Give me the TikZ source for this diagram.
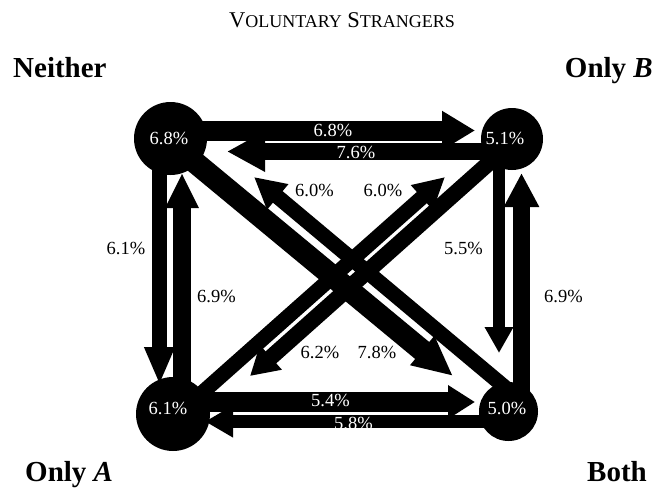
\documentclass[tikz,border=0pt]{standalone}
\usepackage{fontspec}
\setmainfont{Liberation Serif}
\usetikzlibrary{arrows.meta}
\begin{document}
\begin{tikzpicture}[x=1pt,y=-1pt,
  state/.style={circle,fill=black,inner sep=0pt,minimum size=#1},
  fat/.style n args={3}{line width=#1pt,-{Triangle[length=#3pt,width=#2pt]},black},
  pct/.style={font=\fontsize{18.5}{20}\selectfont},
  wpct/.style={pct,text=white},
  corner/.style={font=\fontsize{29}{31}\selectfont\bfseries}]
\useasboundingbox (0,0) rectangle (656,488);
% circle centres
\coordinate (cN) at (170.5,138.5);
\coordinate (cB) at (512,139);
\coordinate (cA) at (173,414);
\coordinate (cBo) at (508.5,411.5);
% arrow ends
\coordinate (s1) at (171,130.5); \coordinate (t1) at (475,130.5);
\coordinate (s2) at (512,151.5); \coordinate (t2) at (227,151.5);
\coordinate (s3) at (159.5,140); \coordinate (t3) at (159.5,385);
\coordinate (s4) at (182,412); \coordinate (t4) at (182,173);
\coordinate (s5) at (499,139); \coordinate (t5) at (499,353);
\coordinate (s6) at (521.5,411); \coordinate (t6) at (521.5,173);
\coordinate (s7) at (173,402); \coordinate (t7) at (475,402);
\coordinate (s8) at (508,421.5); \coordinate (t8) at (205,421.5);
\coordinate (s9) at (168,140); \coordinate (t9) at (453,376);
\coordinate (s10) at (507,389); \coordinate (t10) at (254,177);
\coordinate (s11) at (176,416); \coordinate (t11) at (445,177);
\coordinate (s12) at (518.6,136.6); \coordinate (t12) at (250,376);
% arrows
\draw[fat={20}{37}{33}] (s1) -- (t1);
\draw[fat={17}{38}{38}] (s2) -- (t2);
\draw[fat={15}{28}{38}] (s3) -- (t3);
\draw[fat={18}{31}{35}] (s4) -- (t4);
\draw[fat={12}{27}{26}] (s5) -- (t5);
\draw[fat={17}{33}{34}] (s6) -- (t6);
\draw[fat={20}{32}{27}] (s7) -- (t7);
\draw[fat={13}{30}{28}] (s8) -- (t8);
\draw[fat={22}{35}{40}] (s9) -- (t9);
\draw[fat={15}{31}{31}] (s10) -- (t10);
\draw[fat={15}{31}{31}] (s11) -- (t11);
\draw[fat={16}{31}{28}] (s12) -- (t12);
% states
\node[state=73pt] (N) at (cN) {};
\node[state=62pt] (B) at (cB) {};
\node[state=74pt] (A) at (cA) {};
\node[state=59pt] (Bo) at (cBo) {};
\node[wpct] (lN) at (169,138) {6.8\%};
\node[wpct] (lB) at (505,138) {5.1\%};
\node[wpct] (lA) at (168,408) {6.1\%};
\node[wpct] (lBo) at (507,408) {5.0\%};
% arrow labels
\node[wpct] (l1) at (333,130) {6.8\%};
\node[wpct] (l2) at (356,152) {7.6\%};
\node[wpct] (l7) at (330.5,400) {5.4\%};
\node[wpct] (l8) at (353.5,423) {5.8\%};
\node[pct] (l3) at (126,248) {6.1\%};
\node[pct] (l4) at (216.5,296) {6.9\%};
\node[pct] (l5) at (463.5,248) {5.5\%};
\node[pct] (l6) at (563.5,296) {6.9\%};
\node[pct] (l10) at (314.5,190) {6.0\%};
\node[pct] (l11) at (383,190) {6.0\%};
\node[pct] (l12) at (320,352) {6.2\%};
\node[pct] (l9) at (377,352) {7.8\%};
% title and corners
\node[anchor=base,inner sep=0pt] (title) at (342,27) {\fontsize{22.5}{24}\selectfont V{\fontsize{18}{20}\selectfont OLUNTARY} S{\fontsize{18}{20}\selectfont TRANGERS}};
\node[corner,anchor=base west,inner sep=0pt] (cn) at (13,77) {Neither};
\node[corner,anchor=base east,inner sep=0pt] (cb) at (653,77) {Only \textit{B}};
\node[corner,anchor=base west,inner sep=0pt] (ca) at (25,481) {Only \textit{A}};
\node[corner,anchor=base east,inner sep=0pt] (cbo) at (647,481) {Both};
\end{tikzpicture}
\end{document}
